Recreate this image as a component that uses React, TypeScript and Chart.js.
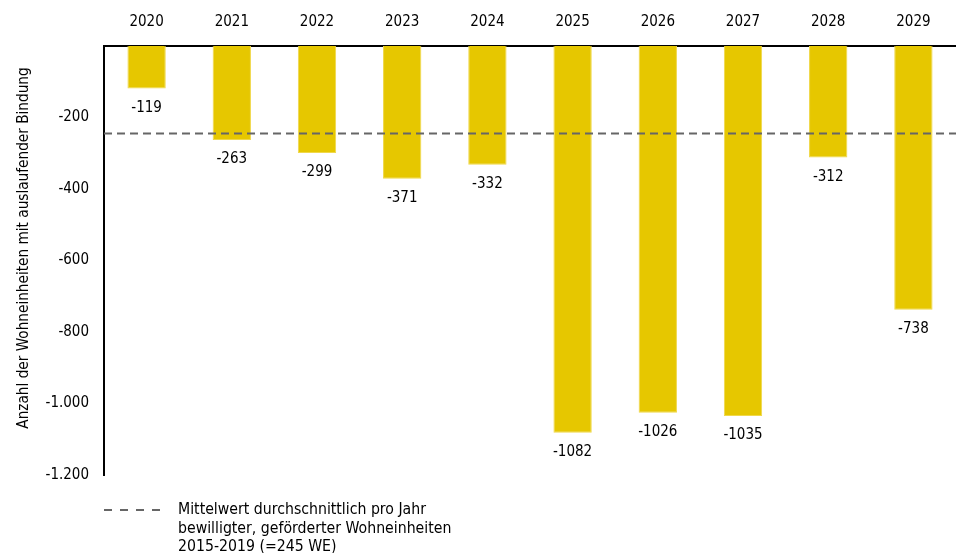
import React, { useEffect, useRef } from "react";
import { Chart, registerables } from "chart.js";

Chart.register(...registerables);

const years = ["2020", "2021", "2022", "2023", "2024", "2025", "2026", "2027", "2028", "2029"];
const values = [-119, -263, -299, -371, -332, -1082, -1026, -1035, -312, -738];
const meanValue = -245;
const yTicks = [0, -200, -400, -600, -800, -1000, -1200];
const yTitle = "Anzahl der Wohneinheiten mit auslaufender Bindung";
const legendLines = [
  "Mittelwert durchschnittlich pro Jahr",
  "bewilligter, geförderter Wohneinheiten",
  "2015-2019 (=245 WE)",
];

const FONT = "'DejaVu Sans Condensed', 'Noto Sans', sans-serif";

function fmt(v: number): string {
  const s = Math.abs(v).toString().replace(/\B(?=(\d{3})+(?!\d))/g, ".");
  return (v < 0 ? "-" : "") + s;
}

const overlayPlugin = {
  id: "overlay",
  afterDatasetsDraw(chart: any) {
    const { ctx, chartArea, scales } = chart;
    const y = scales.y;
    const my = y.getPixelForValue(meanValue);
    ctx.save();
    ctx.strokeStyle = "#666666";
    ctx.lineWidth = 2;
    ctx.setLineDash([8, 5]);
    ctx.beginPath();
    ctx.moveTo(chartArea.left, my);
    ctx.lineTo(chartArea.right, my);
    ctx.stroke();
    ctx.restore();

    const meta = chart.getDatasetMeta(0);
    ctx.save();
    ctx.font = `15px ${FONT}`;
    ctx.fillStyle = "#000";
    ctx.textAlign = "center";
    ctx.textBaseline = "top";
    meta.data.forEach((bar: any, i: number) => {
      ctx.fillText(String(values[i]), bar.x, bar.y + 12);
    });
    ctx.restore();

    // y axis title
    ctx.save();
    ctx.translate(24, 248);
    ctx.rotate(-Math.PI / 2);
    ctx.font = `15.2px ${FONT}`;
    ctx.fillStyle = "#000";
    ctx.textAlign = "center";
    ctx.textBaseline = "middle";
    ctx.fillText(yTitle, 0, 0);
    ctx.restore();

    // legend
    ctx.save();
    const ly = 510;
    ctx.strokeStyle = "#666666";
    ctx.lineWidth = 2;
    ctx.setLineDash([8, 8]);
    ctx.beginPath();
    ctx.moveTo(chartArea.left, ly);
    ctx.lineTo(chartArea.left + 56, ly);
    ctx.stroke();
    ctx.setLineDash([]);
    ctx.font = `15.7px ${FONT}`;
    ctx.fillStyle = "#000";
    ctx.textAlign = "left";
    ctx.textBaseline = "middle";
    legendLines.forEach((t, i) => {
      ctx.fillText(t, 178, ly + i * 18.5);
    });
    ctx.restore();
  },
};

export default function App() {
  const ref = useRef<HTMLCanvasElement | null>(null);
  useEffect(() => {
    if (!ref.current) return;
    const chart = new Chart(ref.current, {
      type: "bar",
      data: {
        labels: years,
        datasets: [
          {
            data: values,
            backgroundColor: "#E6C700",
            borderColor: "#F0D84A",
            borderWidth: 1,
            barPercentage: 0.45,
            categoryPercentage: 1,
          },
        ],
      },
      options: {
        animation: false,
        responsive: false,
        maintainAspectRatio: false,
        layout: { padding: { left: 0, right: 0, top: 0, bottom: 78 } },
        plugins: { legend: { display: false }, tooltip: { enabled: false } },
        scales: {
          x: {
            position: "top",
            grid: { display: false, drawTicks: false, tickLength: 0 },
            border: { display: true, color: "#000", width: 2 },
            ticks: {
              color: "#000",
              font: { family: FONT, size: 15 },
              padding: 15,
            },
            afterFit(scale: any) {
              scale.height = 46;
            },
          },
          y: {
            min: -1200,
            max: 0,
            afterBuildTicks(scale: any) {
              scale.ticks = yTicks.map((v) => ({ value: v }));
            },
            grid: { display: false, drawTicks: false, tickLength: 0 },
            border: { display: true, color: "#000", width: 2 },
            ticks: {
              color: "#000",
              font: { family: FONT, size: 15 },
              padding: 15,
              callback: (v: any) => (Number(v) === 0 ? "" : fmt(Number(v))),
            },
            afterFit(scale: any) {
              scale.width = 104;
            },
          },
        },
      },
      plugins: [overlayPlugin],
    });
    return () => chart.destroy();
  }, []);
  return (
    <div style={{ position: "fixed", left: 0, top: 0, width: 956, height: 553, background: "#fff" }}>
      <canvas ref={ref} width={956} height={553} style={{ width: 956, height: 553 }} />
    </div>
  );
}
